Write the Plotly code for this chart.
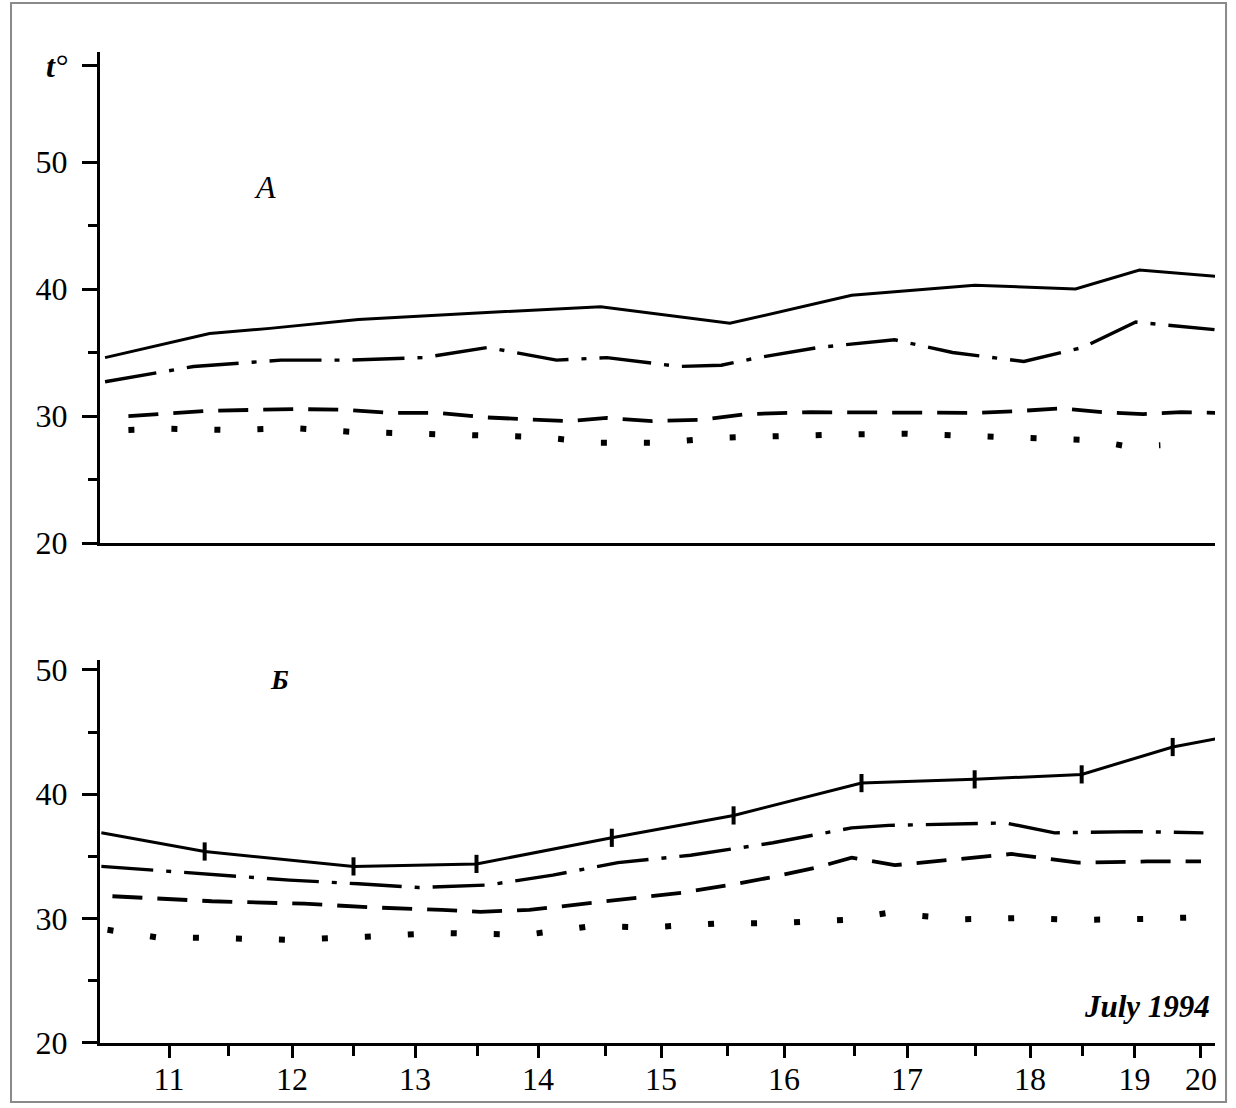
import plotly.graph_objects as go

# ---------------- data (x in chart day-units, y in °C) ----------------
# Panel A
a_solid_x = [10.48, 11.33, 11.82, 12.54, 13.47, 14.51, 15.56, 16.55, 17.55, 18.37, 18.89, 19.51]
a_solid_y = [34.6, 36.5, 36.9, 37.6, 38.1, 38.6, 37.3, 39.5, 40.3, 40.0, 41.5, 41.0]

a_dashdot_x = [10.48, 11.20, 11.91, 12.47, 13.07, 13.59, 14.15, 14.56, 15.15, 15.49, 15.79, 16.28, 16.90, 17.37, 17.95, 18.43, 18.86, 19.50]
a_dashdot_y = [32.7, 33.9, 34.4, 34.4, 34.6, 35.4, 34.4, 34.6, 33.9, 34.0, 34.6, 35.4, 36.0, 35.0, 34.3, 35.4, 37.4, 36.8]

a_dash_x = [10.67, 11.29, 12.01, 12.41, 12.81, 13.19, 13.56, 13.93, 14.24, 14.56, 14.93, 15.33, 15.70, 16.22, 16.70, 17.13, 17.55, 17.92, 18.25, 18.59, 18.92, 19.23, 19.51]
a_dash_y = [30.0, 30.4, 30.55, 30.5, 30.25, 30.25, 29.9, 29.75, 29.6, 29.85, 29.6, 29.7, 30.15, 30.3, 30.3, 30.25, 30.25, 30.4, 30.6, 30.3, 30.15, 30.3, 30.25]

a_dot_x = [10.67, 11.0, 11.5, 12.0, 12.5, 13.0, 13.5, 14.0, 14.5, 15.0, 15.5, 16.0, 16.5, 17.0, 17.5, 18.0, 18.5, 18.8, 19.06]
a_dot_y = [28.9, 29.0, 28.9, 29.05, 28.75, 28.6, 28.5, 28.35, 27.9, 27.9, 28.3, 28.45, 28.55, 28.6, 28.45, 28.25, 28.1, 27.6, 27.7]

# Panel Б
b_solid_x = [10.45, 11.29, 12.50, 13.50, 14.60, 15.59, 16.63, 17.55, 18.42, 19.16, 19.53]
b_solid_y = [36.9, 35.4, 34.2, 34.4, 36.5, 38.3, 40.9, 41.2, 41.6, 43.8, 44.5]

b_dashdot_x = [10.45, 11.45, 11.98, 12.54, 13.03, 13.59, 14.12, 14.65, 15.24, 15.91, 16.55, 16.85, 17.52, 17.80, 18.20, 18.86, 19.41]
b_dashdot_y = [34.2, 33.5, 33.1, 32.8, 32.5, 32.7, 33.5, 34.5, 35.1, 36.1, 37.3, 37.5, 37.6, 37.7, 36.9, 37.0, 36.9]

b_dash_x = [10.54, 11.35, 12.10, 12.66, 13.22, 13.53, 13.93, 14.41, 14.77, 15.18, 15.61, 15.91, 16.28, 16.55, 16.90, 17.34, 17.85, 18.39, 18.95, 19.39]
b_dash_y = [31.8, 31.4, 31.2, 30.9, 30.7, 30.55, 30.7, 31.25, 31.6, 32.1, 32.8, 33.35, 34.15, 34.9, 34.3, 34.7, 35.2, 34.5, 34.6, 34.6]

b_dot_x = [10.50, 10.90, 11.35, 11.98, 12.60, 13.22, 13.90, 14.44, 14.90, 15.44, 15.95, 16.48, 16.84, 17.45, 17.95, 18.40, 18.93, 19.35]
b_dot_y = [29.1, 28.5, 28.45, 28.3, 28.55, 28.85, 28.7, 29.4, 29.3, 29.6, 29.65, 29.9, 30.45, 29.95, 30.05, 29.9, 29.98, 30.1]

# ticks
x_tick_vals = [11, 12, 13, 14, 15, 16, 17, 18, 18.85, 19.39]
x_tick_text = ["11", "12", "13", "14", "15", "16", "17", "18", "19", "20"]
x_minor_vals = [11.48, 12.5, 13.51, 14.55, 15.54, 16.57, 17.56, 18.43]
ya_tick_vals = [20, 30, 40, 50, 57.6]
ya_tick_text = ["20", "30", "40", "50", "<i><b>t</b>°</i>"]
yb_tick_vals = [20, 30, 40, 50]
yb_tick_text = ["20", "30", "40", "50"]
y_minor_vals = [25, 35, 45]

FONT = "Liberation Serif, Times New Roman, serif"
K = "black"

fig = go.Figure()

def add(x, y, dash, width, xa, ya):
    fig.add_trace(go.Scatter(x=x, y=y, mode="lines", xaxis=xa, yaxis=ya,
                             line=dict(color=K, width=width, dash=dash),
                             showlegend=False, hoverinfo="skip"))

DASHDOT = "52px,13px,5px,13px"
DASH = "30px,15px"
DOT = "6px,37px"

add(a_solid_x, a_solid_y, "solid", 3, "x", "y")
add(a_dashdot_x, a_dashdot_y, DASHDOT, 3.4, "x", "y")
add(a_dash_x, a_dash_y, DASH, 3.8, "x", "y")
add(a_dot_x, a_dot_y, DOT, 6, "x", "y")

add(b_solid_x, b_solid_y, "solid", 3, "x2", "y2")
add(b_dashdot_x, b_dashdot_y, DASHDOT, 3.4, "x2", "y2")
add(b_dash_x, b_dash_y, DASH, 3.8, "x2", "y2")
add(b_dot_x, b_dot_y, DOT, 6, "x2", "y2")

# markers on the solid line of panel Б (interior points)
fig.add_trace(go.Scatter(x=b_solid_x[1:-1], y=b_solid_y[1:-1], mode="markers",
                         xaxis="x2", yaxis="y2", showlegend=False, hoverinfo="skip",
                         marker=dict(symbol="line-ns", size=13, color=K,
                                     line=dict(color=K, width=4))))

xr = [10.439, 19.504]
tickfont = dict(family=FONT, size=32, color=K)

fig.update_layout(
    width=1236, height=1108,
    margin=dict(l=100, r=21, t=52, b=65),
    font=dict(family=FONT, color=K),
    paper_bgcolor="white", plot_bgcolor="white",
    xaxis=dict(domain=[0, 1], range=xr, anchor="y", showline=True, linecolor=K, linewidth=3,
               showticklabels=False, ticks="", showgrid=False, zeroline=False, automargin=False),
    yaxis=dict(domain=[0.5045, 1], range=[20, 58.66], anchor="x", showline=True, linecolor=K,
               linewidth=3, showgrid=False, zeroline=False, automargin=False,
               tickmode="array", tickvals=ya_tick_vals, ticktext=ya_tick_text,
               ticks="outside", ticklen=15, tickwidth=2.5, tickcolor=K, tickfont=tickfont,
               ticklabelstandoff=8,
               minor=dict(tickvals=y_minor_vals, ticks="outside", ticklen=9, tickwidth=2.5, tickcolor=K)),
    xaxis2=dict(domain=[0, 1], range=xr, anchor="y2", showline=True, linecolor=K, linewidth=3,
                showgrid=False, zeroline=False, automargin=False,
                tickmode="array", tickvals=x_tick_vals, ticktext=x_tick_text,
                ticks="outside", ticklen=12, tickwidth=2.5, tickcolor=K, tickfont=tickfont,
                ticklabelstandoff=-6,
                minor=dict(tickvals=x_minor_vals, ticks="outside", ticklen=10, tickwidth=2.5, tickcolor=K)),
    yaxis2=dict(domain=[0, 0.3865], range=[20, 50.8], anchor="x2", showline=True, linecolor=K,
                linewidth=3, showgrid=False, zeroline=False, automargin=False,
                tickmode="array", tickvals=yb_tick_vals, ticktext=yb_tick_text,
                ticks="outside", ticklen=15, tickwidth=2.5, tickcolor=K, tickfont=tickfont,
                ticklabelstandoff=8,
                minor=dict(tickvals=y_minor_vals, ticks="outside", ticklen=9, tickwidth=2.5, tickcolor=K)),
)

fig.add_annotation(x=11.78, y=48.0, xref="x", yref="y", text="<i>A</i>", showarrow=False,
                   font=dict(family=FONT, size=32, color=K))
fig.add_annotation(x=11.90, y=49.2, xref="x2", yref="y2", text="<b><i>Б</i></b>", showarrow=False,
                   font=dict(family=FONT, size=28, color=K))
fig.add_annotation(x=19.48, y=22.9, xref="x2", yref="y2", text="<b><i>July 1994</i></b>",
                   showarrow=False, xanchor="right", font=dict(family=FONT, size=31, color=K))

# outer frame
fig.add_shape(type="rect", xref="paper", yref="paper", x0=-0.0798, x1=1.0099, y0=-0.0595, y1=1.0494,
              line=dict(color="#8a8a8a", width=2), fillcolor="rgba(0,0,0,0)", layer="below")

fig.write_html("out.html")
